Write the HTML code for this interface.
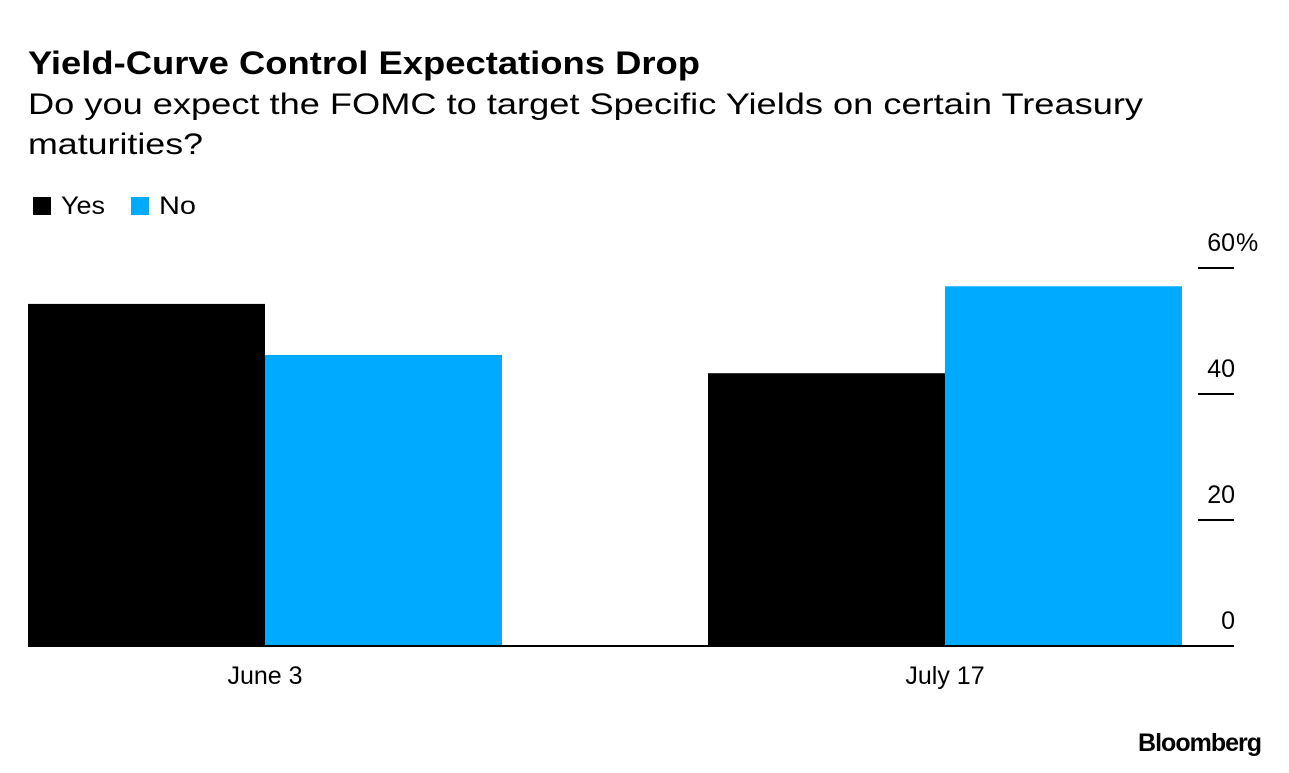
<!DOCTYPE html>
<html><head><meta charset="utf-8"><style>
body{margin:0;background:#fff;font-family:"Liberation Sans",Arial,sans-serif;}
svg text{font-family:"Liberation Sans",Arial,sans-serif;}
</style></head><body>
<svg width="1289" height="768" xmlns="http://www.w3.org/2000/svg">
<text x="28" y="74" font-size="32" font-weight="bold" fill="#000" textLength="672" lengthAdjust="spacingAndGlyphs">Yield-Curve Control Expectations Drop</text>
<text x="28" y="114" font-size="30" fill="#000" textLength="1115" lengthAdjust="spacingAndGlyphs">Do you expect the FOMC to target Specific Yields on certain Treasury</text>
<text x="28" y="154" font-size="30" fill="#000" textLength="175" lengthAdjust="spacingAndGlyphs">maturities?</text>
<g>
<rect x="33" y="197" width="18" height="18" fill="#000"/>
<text x="61" y="214" font-size="25" textLength="44" lengthAdjust="spacingAndGlyphs">Yes</text>
<rect x="131" y="197" width="18" height="18" fill="#00aaff"/>
<text x="159" y="214" font-size="25" textLength="37" lengthAdjust="spacingAndGlyphs">No</text>
</g>
<g id="bars"></g>
<g id="axis"></g>
<line x1="28" y1="646" x2="1234" y2="646" stroke="#000" stroke-width="2"/>
<g id="xlabels"></g>
<text x="1261" y="751" font-size="25" font-weight="bold" text-anchor="end" letter-spacing="-1">Bloomberg</text>
</svg>
<script>
const categories = ["June 3", "July 17"];
const yesValues = [54.3, 43.3];
const noValues = [46.2, 57.1];
const yTicks = [0, 20, 40, 60];
const ns = "http://www.w3.org/2000/svg";
const y = v => 646 - v * 6.3;
const groupX = i => 28 + i * 680;
const barW = 237;
const bars = document.getElementById('bars');
function mk(tag, attrs, parent){const e=document.createElementNS(ns,tag);for(const k in attrs)e.setAttribute(k,attrs[k]);parent.appendChild(e);return e;}
categories.forEach((c,i)=>{
  const r1 = mk('rect',{x:groupX(i),y:y(yesValues[i]),width:barW,height:646-y(yesValues[i]),fill:'#000'},bars);
  
  
  const r2 = mk('rect',{x:groupX(i)+barW,y:y(noValues[i]),width:barW,height:646-y(noValues[i]),fill:'#00aaff'},bars);
  
  
  const t = mk('text',{x:groupX(i)+barW,y:684,'font-size':25,'text-anchor':'middle'},document.getElementById('xlabels'));
  t.textContent = c;
  
  
});
const ax = document.getElementById('axis');
yTicks.forEach(v=>{
  if(v>0){
    const l = mk('line',{x1:1198,x2:1234,y1:y(v),y2:y(v),stroke:'#000','stroke-width':2},ax);
    
    
  }
  const t = mk('text',{x:1235,y:y(v)-17,'font-size':25,'text-anchor':'end'},ax);
  t.textContent = String(v);
  
  
  if(v===60){
    const p = mk('text',{x:1236,y:y(v)-17,'font-size':25},ax);
    p.textContent='%';
    
    
  }
});
</script>
</body></html>
